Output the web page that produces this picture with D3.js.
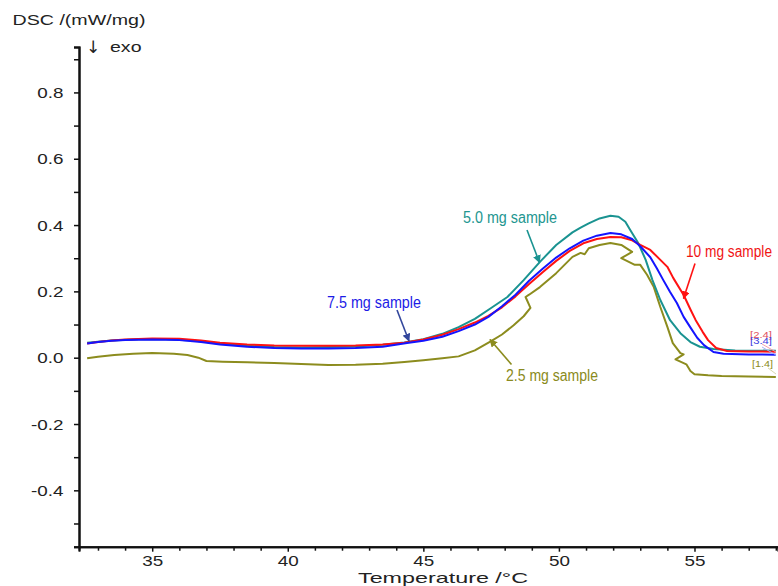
<!DOCTYPE html>
<html>
<head>
<meta charset="utf-8">
<script src="https://cdn.jsdelivr.net/npm/d3@7/dist/d3.min.js"></script>
<style>
  html, body { margin: 0; padding: 0; background: #fff; }
  svg { display: block; font-family: "Liberation Sans", Arial, sans-serif; }
</style>
</head>
<body>
<svg id="chart" width="778" height="586"></svg>
<script>
// ---------------- data ----------------
const xMajorTicks = [35, 40, 45, 50, 55];
const xMinorTicks = [33, 34, 36, 37, 38, 39, 41, 42, 43, 44, 46, 47, 48, 49, 51, 52, 53, 54, 56, 57, 58];
const yMajorTicks = [-0.4, -0.2, 0.0, 0.2, 0.4, 0.6, 0.8];
const yMinorTicks = [-0.5, -0.3, -0.1, 0.1, 0.3, 0.5, 0.7, 0.9];

// 10 mg sample (red)
const redT = [32.6,33.0,33.5,34.0,35.0,36.0,36.8,37.5,38.5,39.5,40.5,41.5,42.5,43.5,44.3,45.0,45.7,46.3,46.9,47.4,47.9,48.4,48.9,49.4,49.9,50.4,50.9,51.4,51.9,52.3,52.7,53.0,53.37,53.74,54.0,54.22,54.6,54.86,55.04,55.3,55.5,55.8,56.2,57.0,58.0];
const redV = [0.043,0.047,0.052,0.055,0.058,0.057,0.052,0.045,0.040,0.037,0.036,0.036,0.037,0.040,0.045,0.055,0.069,0.086,0.106,0.126,0.152,0.185,0.222,0.258,0.292,0.322,0.345,0.358,0.364,0.363,0.354,0.340,0.325,0.295,0.274,0.240,0.189,0.144,0.114,0.078,0.053,0.029,0.020,0.019,0.018];

// 7.5 mg sample (blue)
const blueT = [32.6,33.0,33.5,34.0,35.0,36.0,36.8,37.5,38.5,39.5,40.5,41.5,42.5,43.5,44.4,45.0,45.7,46.3,46.9,47.4,47.9,48.4,48.9,49.4,49.9,50.4,50.9,51.4,51.9,52.3,52.7,53.0,53.37,53.61,53.85,54.1,54.35,54.6,54.86,55.1,55.35,55.7,56.07,57.0,58.0];
const blueV = [0.043,0.047,0.051,0.053,0.055,0.053,0.047,0.040,0.033,0.029,0.028,0.028,0.029,0.033,0.044,0.051,0.063,0.080,0.100,0.123,0.155,0.190,0.232,0.268,0.302,0.330,0.353,0.368,0.376,0.372,0.358,0.336,0.303,0.270,0.234,0.198,0.165,0.123,0.090,0.060,0.038,0.017,0.012,0.010,0.009];

// 5.0 mg sample (teal)
const tealT = [32.6,33.5,34.5,35.5,36.5,37.5,38.5,39.5,40.5,41.5,42.5,43.5,44.3,45.0,45.7,46.3,46.9,47.5,48.1,48.7,49.3,49.9,50.5,50.8,51.1,51.5,51.9,52.2,52.45,52.63,52.93,53.2,53.45,53.74,54.1,54.48,54.85,55.2,55.7,56.5,58.0];
const tealV = [0.045,0.052,0.056,0.056,0.052,0.043,0.036,0.032,0.031,0.032,0.034,0.039,0.046,0.056,0.072,0.092,0.117,0.150,0.183,0.234,0.289,0.340,0.378,0.392,0.405,0.420,0.428,0.425,0.410,0.385,0.345,0.295,0.234,0.174,0.113,0.074,0.047,0.033,0.026,0.022,0.021];

// 2.5 mg sample (olive) - drawn in recorded order (contains small back-steps)
const oliveT = [32.6,33.0,33.6,34.3,35.0,35.8,36.3,36.7,37.0,37.6,38.5,39.5,40.5,41.5,42.5,43.5,44.3,45.0,45.7,46.3,46.9,47.5,47.9,48.33,48.7,48.95,48.77,48.9,49.3,49.9,50.5,50.8,50.95,51.1,51.5,51.9,52.3,52.7,52.3,52.8,53.0,53.25,53.5,53.74,54.0,54.2,54.48,54.6,54.3,54.7,54.85,55.0,55.5,56.0,57.0,58.0];
const oliveV = [-0.002,0.003,0.008,0.012,0.014,0.012,0.008,0.000,-0.010,-0.012,-0.014,-0.016,-0.019,-0.022,-0.021,-0.018,-0.013,-0.008,-0.002,0.004,0.022,0.050,0.070,0.098,0.125,0.150,0.183,0.190,0.213,0.255,0.304,0.316,0.312,0.330,0.340,0.346,0.340,0.319,0.300,0.280,0.280,0.250,0.213,0.153,0.093,0.044,0.014,0.010,-0.005,-0.020,-0.040,-0.050,-0.053,-0.055,-0.057,-0.058];

const seriesNames = ["2.5 mg sample", "5.0 mg sample", "10 mg sample", "7.5 mg sample"];
const seriesEnds = ["[1.4]", "[2.4]", "[3.4]"];

// ---------------- drawing ----------------
const svg = d3.select("#chart");
const x = d3.scaleLinear().domain([32.3, 58.08]).range([79, 778]);
const y = d3.scaleLinear().domain([-0.57, 0.937]).range([546.7, 47]);

const colors = { red: "#ff1212", blue: "#1414ff", teal: "#1a9391", olive: "#8c8c1e" };

// axes
const fmtY = d => d3.format(".1f")(d).replace("\u2212", "-");
const xAxisMinor = d3.axisBottom(x).tickValues(xMinorTicks).tickSize(4).tickFormat("");
const xAxisMajor = d3.axisBottom(x).tickValues(xMajorTicks).tickSize(5).tickFormat(d3.format("d"));
const yAxisMinor = d3.axisLeft(y).tickValues(yMinorTicks).tickSize(5).tickFormat("");
const yAxisMajor = d3.axisLeft(y).tickValues(yMajorTicks).tickSize(5).tickFormat(fmtY);

const gxm = svg.append("g").attr("transform", `translate(0,${y.range()[0]})`).call(xAxisMinor);
const gx = svg.append("g").attr("transform", `translate(0,${y.range()[0]})`).call(xAxisMajor);
const gym = svg.append("g").attr("transform", `translate(${x.range()[0]},0)`).call(yAxisMinor);
const gy = svg.append("g").attr("transform", `translate(${x.range()[0]},0)`).call(yAxisMajor);

[gxm, gx, gym, gy].forEach(g => {
  g.select(".domain").attr("stroke", "#111").attr("stroke-width", 2);
  g.selectAll(".tick line").attr("stroke", "#111").attr("stroke-width", 1.5);
});
gx.selectAll(".tick text")
  .attr("y", 19.5).attr("dy", 0)
  .attr("font-size", 14.5).attr("fill", "#222")
  .attr("font-family", "Liberation Sans, Arial, sans-serif")
  .attr("transform", "scale(1.3,1)");
gy.selectAll(".tick text")
  .attr("x", -12).attr("dy", "0.35em")
  .attr("font-size", 14.5).attr("fill", "#222")
  .attr("font-family", "Liberation Sans, Arial, sans-serif")
  .attr("transform", "scale(1.3,1)");

// titles
function fixedText(str, px, py, size, len, color, anchor) {
  return svg.append("text")
    .attr("x", px).attr("y", py)
    .attr("font-size", size)
    .attr("fill", color || "#222")
    .attr("text-anchor", anchor || "start")
    .attr("textLength", len)
    .attr("lengthAdjust", "spacingAndGlyphs")
    .text(str);
}
fixedText("DSC /(mW/mg)", 12.5, 24.5, 15, 133);
svg.append("text").attr("x", 86).attr("y", 53).attr("font-size", 17)
  .attr("font-family", "DejaVu Sans, sans-serif").attr("fill", "#222").text("\u2193");
fixedText("exo", 110, 52, 15, 31.5);
fixedText("Temperature /\u00B0C", 358, 582.5, 14.5, 170);

// curves
const line = d3.line().x(d => x(d[0])).y(d => y(d[1]));
const data = {
  olive: d3.zip(oliveT, oliveV),
  teal: d3.zip(tealT, tealV),
  red: d3.zip(redT, redV),
  blue: d3.zip(blueT, blueV)
};
["olive", "teal", "red", "blue"].forEach(k => {
  svg.append("path")
    .datum(data[k])
    .attr("fill", "none")
    .attr("stroke", colors[k])
    .attr("stroke-width", 2)
    .attr("stroke-linejoin", "round")
    .attr("d", line);
});

// arrow markers
const defs = svg.append("defs");
function marker(id, color) {
  defs.append("marker")
    .attr("id", id)
    .attr("viewBox", "0 0 10 10")
    .attr("refX", 9).attr("refY", 5)
    .attr("markerWidth", 8).attr("markerHeight", 8)
    .attr("markerUnits", "userSpaceOnUse")
    .attr("orient", "auto")
    .append("path").attr("d", "M0,0 L10,5 L0,10 Z").attr("fill", color);
}
marker("ahTeal", colors.teal);
marker("ahBlue", "#33479c");
marker("ahOlive", colors.olive);
marker("ahRed", colors.red);

function arrow(x1, y1, x2, y2, color, mk) {
  svg.append("line")
    .attr("x1", x1).attr("y1", y1).attr("x2", x2).attr("y2", y2)
    .attr("stroke", color).attr("stroke-width", 1.6)
    .attr("marker-end", `url(#${mk})`);
}

// annotations
fixedText(seriesNames[1], 463, 223, 16, 94, "#239690");
arrow(527, 230, 539.5, 262.5, colors.teal, "ahTeal");

fixedText(seriesNames[3], 327, 308, 16, 94, "#1c1ce6");
arrow(397, 310, 409, 341, "#33479c", "ahBlue");

fixedText(seriesNames[0], 506, 380.5, 16, 92, "#8a8a20");
arrow(511.5, 364.5, 490, 339.5, colors.olive, "ahOlive");

fixedText(seriesNames[2], 686, 257, 16, 86, "#f01414");
arrow(695, 263.5, 683.5, 298.5, colors.red, "ahRed");

// small end labels
svg.append("line").attr("x1", 762).attr("y1", 344).attr("x2", 776).attr("y2", 352)
  .attr("stroke", "#f4a0a8").attr("stroke-width", 1);
svg.append("line").attr("x1", 762).attr("y1", 347).attr("x2", 776).attr("y2", 355)
  .attr("stroke", "#a8b0f4").attr("stroke-width", 1);
svg.append("line").attr("x1", 768).attr("y1", 368).attr("x2", 776).attr("y2", 374)
  .attr("stroke", "#d8d8b0").attr("stroke-width", 1);
fixedText(seriesEnds[1], 750, 338, 9, 22, "#e05060");
fixedText(seriesEnds[2], 750, 344, 9, 22, "#3a3ae0");
fixedText(seriesEnds[0], 752, 367, 9, 21, "#8a8a20");
</script>
</body>
</html>
